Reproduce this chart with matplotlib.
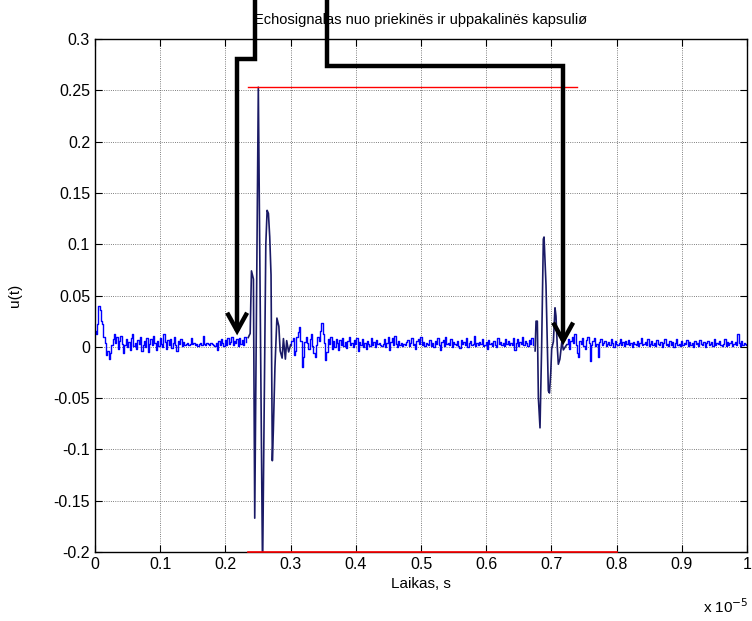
import numpy as np
import matplotlib.pyplot as plt
from matplotlib.ticker import FormatStrFormatter

plt.rcParams['font.family'] = ['Liberation Sans', 'DejaVu Sans']

# time axis in units of 1e-5 s, noise values in thousandths of u(t)
step = 0.002
noise_a = [15, 12, 22, 40, 36, 25, 22, 10, 4, -8, -4, -12, -6, 2, 8, 12, 4, 10, -2, 6,
           11, 3, -6, 2, 8, 0, 5, -3, 9, 12, 1, 4, -2, 7, 3, 10, -4, 2, 6, 0,
           9, -5, 3, 8, 2, 11, 4, -3, 6, 1, 9, 3, 0, 12, 5, -2, 7, 2, 8, -1,
           4, 10, 2, -4, 6, 3, 8, 1, 5, 2, 3, 4, 2, 3, 9, 3, 4, 2, 3, 1,
           3, 4, 2, 11, 3, 2, 4, 3, 2, 4, 3, 2, 1, 4, -3, 6, 2, 8, 4, 1,
           7, 2, 9, 3, 5, 10, 2, 6, 4, 8, 1, 9, 3, 7, 2, 10, 5]
noise_b = [2, 6, 9, -8, -4, 10, 14, 19, 6, -20, -10, 5, 10, 4, -2,
           8, 12, 1, -6, -10, 2, 10, 6, 15, 23, 12, 4, -13, -5, 8,
           3, 10, -2, 6, 0, 8, 4, -3, 7, 2, 9, 1, 5, -1, 6, 10, 2, 4, 0, 7,
           3, 9, -4, 5, 2, 8, 0, 4, -2, 6, 3, 1, 9, 2, 5, 0, 7, 3, 4, 2,
           1, 3, 8, 0, 4, 10, -3, 5, 9, 2, 11, 3, 0, 6, 2, 4, 1, 3, 2, 5,
           7, 1, 4, 9, 2, 3, -2, 6, 8, 3, 10, 2, 5, 1, 4, 3, 2, 7, 1, 4,
           0, 6, 3, 9, 2, -3, 5, 7, 1, 10, 3, 4, 2, 8, 0, 5, 3, 2, 6, 1,
           -1, 7, 3, 5, 2, 9, 0, 4, 6, 2, 3, 11, 1, 4, 2, 5, 3, 8, 1, 2,
           5, -2, 7, 3, 4, 1, 6, 2, 0, 9, 3, 5, 2, 4, 1, 8, 3, 6, 2, 4,
           2, 9, -3, 4, 8, 1, 5, 3, 10, 2, 6, 4, 1, 7, 3, 9, 2]
noise_c = [3, 8, -2, 6, 10, 4, 12, 2, -6, -10, 6, 3, 9, 1, -2, 7, 10, 4, -14, 2,
           6, 9, 1, 3, -10, 5, 8, 2, 4, 6, 1, 3, 5, 2, 8, 4, 0, 6, 3, 2,
           4, 8, 2, 5, 1, 6, 3, 7, 2, 4, 0, 5, 3, 2, 6, 1, 4, 9, 2, 3,
           5, 2, 8, 1, 3, 6, 2, 4, 1, 7, 3, 2, 5, 0, 4, 8, 2, 3, 1, 6,
           2, 5, 0, 4, 8, 2, 3, 1, 6, 2, 4, 3, 7, 1, 5, 2, 4, 0, 6, 3,
           4, 1, 7, 3, 2, 5, 0, 4, 6, 2, 3, 5, 1, 8, 2, 4, 3, 6, 2, 1,
           3, 8, 1, 5, 2, 4, 6, 1, 3, 5, 2, 12, 4, 1, 6, 2, 4, 3, 2]
start_a, start_b, start_c = 0.0, 0.300, 0.724

# echo from the front capsule
pulse1_t = [0.235, 0.238, 0.240, 0.243, 0.245, 0.2505, 0.257, 0.262, 0.264,
            0.266, 0.268, 0.270, 0.272, 0.2735, 0.276, 0.279, 0.282, 0.284,
            0.287, 0.289, 0.292, 0.294, 0.297, 0.300]
pulse1_u = [0.009, 0.013, 0.074, 0.066, -0.167, 0.253, -0.22, 0.10, 0.133,
            0.130, 0.107, 0.07, -0.111, -0.082, -0.02, 0.028, 0.020, -0.004,
            -0.011, 0.008, -0.012, 0.006, -0.005, 0.002]

# echo from the back capsule
pulse2_t = [0.675, 0.6764, 0.6784, 0.680, 0.6825, 0.685, 0.6876, 0.6887,
            0.6917, 0.6953, 0.697, 0.699, 0.7004, 0.703, 0.7055, 0.707,
            0.709, 0.7106, 0.713, 0.716, 0.7183, 0.7234]
pulse2_u = [-0.004, 0.025, 0.025, -0.05, -0.079, 0.0, 0.105, 0.107,
            0.06, -0.043, -0.045, -0.025, -0.002, 0.005, 0.038, 0.03,
            0.0, -0.017, -0.012, 0.005, -0.003, 0.002]

fig = plt.figure(figsize=(7.52, 6.21), dpi=100)
ax = fig.add_axes([0.1263, 0.1111, 0.8671, 0.8261])

for start, vals in [(start_a, noise_a), (start_b, noise_b), (start_c, noise_c)]:
    t = start + np.arange(len(vals)) * step
    ax.plot(t, np.array(vals) / 1000, color='#0000ff', lw=1, drawstyle='steps-mid')

ax.plot(pulse1_t, pulse1_u, color='#1a1a66', lw=1.2)
ax.plot(pulse2_t, pulse2_u, color='#1a1a66', lw=1.2)

# red level marker
ax.plot([0.235, 0.739], [0.253, 0.253], color='#ff0000', lw=1.0)
ax.plot([0.235, 0.8], [-0.2, -0.2], color='#ff0000', lw=1.2, clip_on=False, zorder=5)

# thick arrows from the top of the figure
arrow_kw = dict(color='black', lw=3.2, clip_on=False, zorder=6,
                solid_joinstyle='miter', solid_capstyle='butt')
ax.plot([0.2454, 0.2454, 0.218, 0.218], [0.345, 0.2805, 0.2805, 0.0156], **arrow_kw)
ax.plot([0.2027, 0.218, 0.2333], [0.0332, 0.0156, 0.0332], **arrow_kw)
ax.plot([0.356, 0.356, 0.718, 0.718], [0.345, 0.2736, 0.2736, 0.006], **arrow_kw)
ax.plot([0.7027, 0.718, 0.7333], [0.0236, 0.006, 0.0236], **arrow_kw)

ax.set_xlim(0, 1)
ax.set_ylim(-0.2, 0.3)
ax.set_xticks(np.round(np.arange(0, 1.01, 0.1), 2) + 0.0)
ax.set_yticks(np.round(np.arange(-0.2, 0.31, 0.05), 2) + 0.0)
ax.xaxis.set_major_formatter(FormatStrFormatter('%g'))
ax.yaxis.set_major_formatter(FormatStrFormatter('%g'))
ax.grid(True, linestyle=':', color='#555555', lw=0.6)
ax.tick_params(direction='in', top=True, right=True, length=5, labelsize=11.5)
for s in ax.spines.values():
    s.set_linewidth(1.0)

ax.set_title('Echosignalas nuo priekinës ir uþpakalinës kapsuliø', fontsize=10.5, pad=11)
ax.set_xlabel('Laikas, s', fontsize=11)
ax.set_ylabel('u(t)', fontsize=11)
ax.yaxis.set_label_coords(-0.112, 0.5)
fig.text(0.995, 0.008, r'x 10$^{-5}$', ha='right', va='bottom', fontsize=11)

fig.savefig('out.png', dpi=100)
